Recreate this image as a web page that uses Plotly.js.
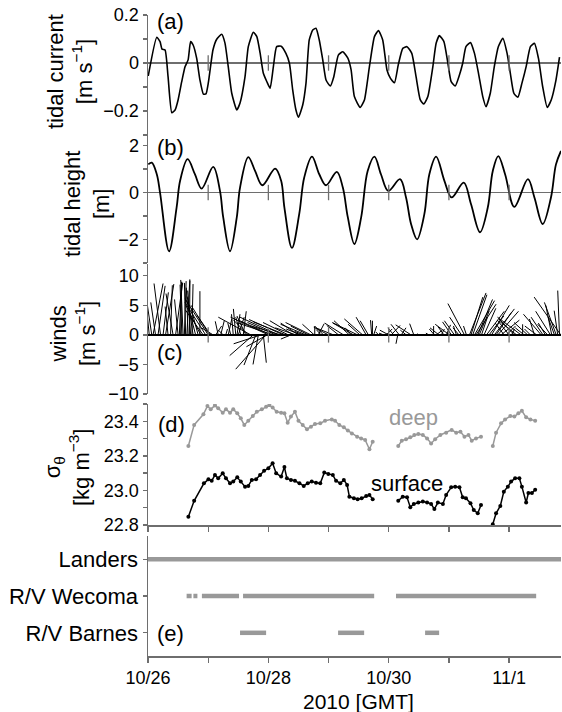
<!DOCTYPE html>
<html><head><meta charset="utf-8">
<script src="https://cdn.plot.ly/plotly-3.0.1.min.js"></script>
<style>html,body{margin:0;padding:0;background:#fff}</style>
</head><body><div id="chart" style="width:562px;height:712px"></div>
<script>
// ---------- DATA (hours after 2010-10-26 00:00 GMT) ----------
const currentHours = [0.1,3.5,4.8,5.6,6.8,8.0,9.5,10.8,12.0,13.4,14.8,16.0,17.0,18.0,19.4,20.7,22.1,23.1,24.1,25.9,27.4,29.4,30.7,32.0,33.4,35.4,36.7,38.7,40.0,42.0,43.4,44.7,46.0,47.4,48.7,50.0,51.3,53.1,55.0,56.4,57.7,59.0,60.0,61.7,63.0,64.3,65.7,67.0,68.3,69.7,71.0,72.7,74.1,75.9,77.7,79.7,81.0,82.3,84.6,86.3,88.3,90.3,91.9,93.6,95.3,96.7,98.3,99.8,101.6,103.3,105.2,106.9,108.6,110.0,111.6,113.6,114.9,116.2,118.0,119.5,120.9,122.5,124.2,125.5,126.8,128.6,130.2,131.8,133.5,134.8,136.5,138.1,139.7,141.5,143.2,144.5,145.9,147.5,149.1,150.8,152.5,154.1,155.7,157.4,159.2,160.8,162.7,164.1];
const currentValues = [-0.054,0.107,0.089,0.058,0.054,-0.057,-0.207,-0.196,-0.154,-0.08,-0.015,0.013,0.089,0.075,0.02,-0.07,-0.13,-0.129,-0.08,0.054,0.099,0.12,0.083,-0.015,-0.126,-0.196,-0.167,-0.057,0.068,0.128,0.11,0.042,-0.043,-0.078,-0.105,-0.015,0.068,0.07,0.04,-0.001,-0.112,-0.196,-0.226,-0.175,-0.085,0.096,0.1375,0.145,0.096,0.0125,-0.071,-0.096,-0.057,0.033,0.047,0.02,-0.029,-0.14,-0.185,-0.154,-0.015,0.11,0.135,0.096,-0.029,-0.064,-0.082,-0.008,0.061,0.068,0.04,-0.057,-0.154,-0.171,-0.14,-0.015,0.082,0.114,0.089,0.005,-0.078,-0.096,-0.05,-0.001,0.068,0.085,0.04,-0.043,-0.14,-0.182,-0.126,-0.015,0.068,0.103,0.04,-0.043,-0.126,-0.143,-0.085,-0.015,0.068,0.082,0.02,-0.099,-0.185,-0.154,-0.071,0.024];

const heightHours = [0.1,1.5,3.5,4.8,8.4,11.4,12.8,15.8,18.7,21.4,26.0,28.7,30.0,32.7,35.4,36.7,40.0,42.7,45.6,50.7,53.1,54.4,57.4,60.3,62.3,65.4,68.3,71.0,75.3,77.7,79.7,82.3,85.0,87.6,90.3,92.9,95.8,100.5,102.9,104.9,107.3,110.2,112.2,114.9,118.2,121.1,125.9,128.8,132.4,135.5,137.5,139.7,142.4,146.1,151.5,154.1,157.4,160.7,162.7,164.7];
const heightValues = [1.20,1.27,0.78,0,-2.5,-0.64,0.5,1.42,0.78,0.17,1.09,0.07,-1.06,-2.5,-1.06,0.21,1.51,0.92,0.31,1.02,0.5,-0.64,-2.36,-0.92,0.64,1.53,0.78,0.31,0.88,0.21,-1.06,-2.19,-1.06,0.92,1.53,0.78,0.07,0.57,-0.21,-1.34,-1.99,-0.92,0.78,1.53,0.5,-0.21,0.42,-0.49,-1.69,-0.64,0.92,1.55,0.78,-0.61,0.57,-0.21,-1.34,-0.21,1.20,1.77];

const windHours = [0.5,1.5,2,3,4,5,6,7,8,9,10,11,12,12.5,13,13.5,14,14.5,15,15.5,16,16.5,17,17.5,18,19,20,20.7,21,22,23,24,24.5,25,26,27,28,29,30,31,32,33,34,35,35.5,36,37,38,39,40,41,42,43,44,45,46,47,47.5,48,49,50,51,52,53,54,55,56,57,58,59,60,61,62,63,64,65,66.3,66.5,67.9,69,70,72,74,76,78,80.3,81,82,83.6,84.5,85.6,87,87.9,89.2,89.5,90,92,94,95,96,97,98,99.6,100.2,101,103,104.9,106,108,110,112,113.9,114.2,115,116,117,118,119,120.2,121,122.2,123,124,125,126.2,127,128.2,128.8,129.5,130.2,130.8,131.5,132.1,133,134,135,136,137,138.1,138.8,139.5,140.8,142,143,144,145,146.1,147,148.8,149.4,150,151.4,152.5,154.1,155,156.8,157.5,158.5,159.4,160.5,161,162.1,162.8,163.4,164.1,164.6];
const windU = [-0.7,-0.9,1.7,-0.8,1.2,-1.1,0.9,1.4,-0.5,0.3,-1.2,1.2,-0.6,0.4,0.2,-0.3,-0.4,0.3,-0.2,0.5,-0.3,0.1,-0.5,0.2,-1.0,-1.5,-1.2,0,-2.5,-3.0,-3.5,-3.9,-3.1,-2.3,-2.0,1.0,-0.5,0.6,-0.8,0.3,0.6,-0.5,-0.3,-0.4,0.5,1.0,-0.85,0.5,-1.5,-2.5,-5.5,-4.0,-2.0,-0.9,-4.6,0.5,-5.1,-3.5,-6.4,-5.5,-6.0,-4.8,-6.5,-5.0,-5.8,-5.5,-4.3,-1.7,-4.0,-3.5,-3.0,-2.5,-1.5,-4.3,-3.0,-4.3,-2.0,0,1.0,-0.8,-1.5,-2.5,-3.0,-2.0,-3.2,-2.6,-1.0,-3.5,-4.3,-2.0,-3.1,-1.7,-1.4,-0.2,0,0.5,-0.5,-0.8,1.0,-1.5,1.5,-1.0,-0.3,-1.4,0.8,-1.0,-2.6,-0.7,-0.3,0.2,-0.5,0,-0.85,1.0,-1.5,0.5,-1.0,0.7,-2.4,-1.5,-1.7,-0.5,-1.0,-2.0,-2.8,-0.5,2.8,2.0,2.4,3.4,3.4,2.5,1.7,1.0,2.0,3.0,2.5,3.0,3.4,2.6,3.5,3.1,-1.5,1.5,-2.0,0.5,-2.6,-3.0,-4.0,0,-1.5,-2.3,-1.0,-0.85,-2.0,-3.0,-2.0,-1.2,-1.7,-2.5,-1.0,-1.1,-2.0,-0.6,-0.3,-4.5];
const windV = [6.9,6.1,8.7,5.5,8.3,8.7,7.2,8.6,4.8,8.4,7.0,8.8,6.0,8.9,9.0,8.5,9.3,9.1,8.8,9.4,8.0,9.2,7.5,8.6,6.5,5.8,4.5,7.4,5.0,4.2,5.5,6.1,5.0,3.3,1.2,1.5,2.3,2.4,0.8,1.0,2.7,2.0,3.5,4.4,3.5,3.0,3.0,4.0,3.2,2.5,3.0,-3.5,-5.1,-5.0,-1.5,-4.7,-5.8,-2.0,3.0,2.5,2.0,2.1,3.0,1.5,2.6,2.2,2.1,-0.7,2.4,1.2,2.0,1.0,0.6,1.8,1.5,2.1,1.8,1.5,1.9,0.9,1.5,1.3,1.2,1.6,2.0,2.4,1.2,2.0,2.1,1.8,2.7,3.0,2.4,2.5,2.4,1.5,0.5,0.3,1.0,0.8,1.6,1.2,-1.5,1.8,1.2,0.8,1.7,1.9,0.2,0.1,0.3,1.5,1.0,0.8,1.2,1.0,1.4,1.7,1.8,2.2,2.4,1.5,1.2,3.0,5.3,1.5,7.1,6.4,6.8,5.8,5.2,6.0,4.1,3.0,4.5,4.0,3.2,5.0,4.4,3.8,4.0,2.5,2.0,1.5,2.5,1.0,2.7,2.4,3.0,1.8,1.2,2.1,1.0,2.7,1.5,3.5,3.0,2.0,1.8,4.0,5.0,3.0,5.5,4.1,7.5,6.4];

const deepHours = [16.1,18.4,22.1,23.7,25.0,26.7,28.0,29.8,31.1,32.7,34.0,35.6,37.0,38.4,40.0,41.8,43.4,45.4,47.1,48.4,49.7,51.3,53.1,54.4,55.7,57.0,58.6,60.0,61.7,63.4,65.0,66.6,68.7,70.6,73.3,74.6,76.3,78.1,79.7,81.3,83.4,85.0,86.6,88.3,89.6,null,99.8,101.2,102.9,104.6,106.2,107.8,109.6,111.3,112.9,114.5,116.6,118.9,121.1,122.9,124.6,126.2,127.8,129.1,130.8,132.8,null,137.5,138.8,140.8,142.4,144.5,146.1,147.7,149.1,150.8,152.5,154.4];
const deepValues = [23.257,23.379,23.44,23.488,23.469,23.492,23.475,23.45,23.469,23.45,23.469,23.446,23.417,23.379,23.403,23.43,23.455,23.469,23.484,23.494,23.48,23.455,23.45,23.446,23.392,23.427,23.455,23.403,23.379,23.354,23.369,23.384,23.388,23.403,23.411,23.403,23.379,23.365,23.346,23.33,23.311,23.301,23.292,23.238,23.282,null,23.257,23.288,23.296,23.307,23.321,23.327,23.321,23.301,23.272,23.296,23.321,23.334,23.35,23.334,23.34,23.311,23.321,23.288,23.301,23.311,null,23.257,23.334,23.388,23.411,23.43,23.427,23.446,23.461,23.423,23.411,23.403];

const surfHours = [16.1,18.4,22.3,24.1,25.4,26.7,28.0,29.8,31.1,32.7,34.0,35.6,37.0,38.7,40.0,41.4,43.1,44.7,46.3,48.0,49.7,51.1,53.1,54.4,55.4,57.0,58.6,60.4,62.1,63.7,65.3,67.0,68.7,70.3,71.9,73.7,75.0,76.7,78.1,79.4,80.3,82.1,83.6,85.2,87.0,88.3,89.6,null,99.8,101.6,103.3,104.6,106.0,107.8,109.6,111.3,112.9,114.2,115.6,117.6,118.9,120.9,122.5,124.2,125.5,126.8,128.6,129.9,131.5,132.8,null,137.5,138.8,140.5,141.9,143.5,144.8,146.4,148.1,149.1,150.8,151.7,153.1,154.4];
const surfValues = [22.848,22.94,23.041,23.064,23.056,23.089,23.07,23.099,23.07,23.041,23.051,23.076,23.051,23.022,23.026,23.061,23.064,23.089,23.114,23.128,23.157,23.099,23.08,23.135,23.07,23.061,23.056,23.041,23.026,23.041,23.051,23.045,23.041,23.103,23.095,23.089,23.056,23.041,23.061,23.032,22.964,22.955,22.949,22.955,22.968,22.974,22.949,null,22.94,22.964,22.96,22.903,22.922,22.93,22.936,22.93,22.922,22.892,22.93,22.922,22.974,23.018,23.022,23.018,22.96,22.955,22.926,22.887,22.868,22.916,null,22.804,22.868,22.91,22.993,23.022,23.051,23.07,23.07,23.022,22.93,22.985,22.985,23.004];

const platforms = ['R/V Barnes','R/V Wecoma','Landers'];
const landersStart = [0],       landersEnd = [164.7];
const wecomaStart = [15.4,18.1,21.5,37.9,98.9], wecomaEnd = [17.4,19.7,36.3,90.2,154.8];
const barnesStart = [36.7,75.8,110.5], barnesEnd = [47.1,86.2,116.1];

const dayTicks = [0,1,2,3,4,5,6];
const dayLabels = ['10/26','','10/28','','10/30','','11/1'];
const xMaxHours = 164.7;

// ---------- helpers ----------
const T0 = Date.UTC(2010,9,26);
function ts(h){ if(h===null||h===undefined) return null; return new Date(T0 + h*3600000).toISOString().replace('T',' ').replace('Z',''); }
const W=562,H=712,L=148,R=1,T=15,B=56, PW=W-L-R, PH=H-T-B;
const fy = py => (H-B-py)/PH;
const fx = px => (px-L)/PW;
const FONT = 'Liberation Sans, Arial, Helvetica, sans-serif';
const AX = '#6e6e6e';
const xRange = [ts(0), ts(xMaxHours)];
const tickDates = dayTicks.map(d=>ts(d*24));

const dom = {
  a:[fy(135),fy(15)], b:[fy(263),fy(135)], c:[fy(394),fy(264)], d:[fy(525),fy(404)], e:[fy(656),fy(536)]
};
const cRange = [-10,12];

// wind sticks scaled isotropically
const pxPerMs = (394-264)/(cRange[1]-cRange[0]);
const pxPerHour = PW/xMaxHours;
const hPerMs = pxPerMs/pxPerHour;
const wx=[], wy=[];
windHours.forEach((h,i)=>{ wx.push(ts(h), ts(h+windU[i]*hPerMs), null); wy.push(0, windV[i], null); });

function segs(starts, ends, level){
  const x=[],y=[];
  starts.forEach((s,i)=>{ x.push(ts(s),ts(ends[i]),null); y.push(level,level,null); });
  return {x,y};
}
const lan = segs(landersStart,landersEnd,3), wec = segs(wecomaStart,wecomaEnd,2), bar = segs(barnesStart,barnesEnd,1);

const zeroTickDates = tickDates.slice(1);
function zeroTicks(xa,ya){
  return {x:zeroTickDates, y:zeroTickDates.map(()=>0), xaxis:xa, yaxis:ya, mode:'markers', type:'scatter',
    marker:{symbol:'line-ns', size:11, color:AX, line:{width:1.3, color:AX}}, hoverinfo:'skip', cliponaxis:false};
}

const traces = [
  {x:currentHours.map(ts), y:currentValues, xaxis:'x', yaxis:'y', mode:'lines', type:'scatter', line:{color:'#000', width:1.6, shape:'spline', smoothing:0.5}},
  zeroTicks('x','y'),
  {x:heightHours.map(ts), y:heightValues, xaxis:'x2', yaxis:'y2', mode:'lines', type:'scatter', line:{color:'#000', width:1.8, shape:'spline', smoothing:1}},
  zeroTicks('x2','y2'),
  {x:wx, y:wy, xaxis:'x3', yaxis:'y3', mode:'lines', type:'scatter', line:{color:'#000', width:1}, connectgaps:false},
  zeroTicks('x3','y3'),
  {x:deepHours.map(ts), y:deepValues, xaxis:'x4', yaxis:'y4', mode:'lines+markers', type:'scatter', line:{color:'#999', width:1.5}, marker:{color:'#999', size:4}},
  {x:surfHours.map(ts), y:surfValues, xaxis:'x4', yaxis:'y4', mode:'lines+markers', type:'scatter', line:{color:'#000', width:1.5}, marker:{color:'#000', size:4}},
  {x:lan.x, y:lan.y, xaxis:'x5', yaxis:'y5', mode:'lines', type:'scatter', line:{color:'#999', width:4.5}},
  {x:wec.x, y:wec.y, xaxis:'x5', yaxis:'y5', mode:'lines', type:'scatter', line:{color:'#999', width:4.5}},
  {x:bar.x, y:bar.y, xaxis:'x5', yaxis:'y5', mode:'lines', type:'scatter', line:{color:'#999', width:4.5}}
];

function hiddenX(anchor){ return {type:'date', range:xRange, anchor:anchor, visible:false, domain:[0,1]}; }
function yAx(domain, range, vals, text, zero, zc, zw){
  return {domain:domain, range:range, tickvals:vals, ticktext:text, ticks:'outside', ticklen:4, tickwidth:1.3, tickcolor:AX,
    showline:true, linecolor:AX, linewidth:1.5, showgrid:false, zeroline:!!zero, zerolinecolor:zc||AX, zerolinewidth:zw||1.5,
    tickfont:{size:18, color:'#000', family:FONT}, fixedrange:true};
}
const bottomX = (anchor, labels) => ({type:'date', range:xRange, anchor:anchor, domain:[0,1], tickvals:tickDates, ticktext: labels ? dayLabels : dayTicks.map(()=>''),
  ticks:'outside', ticklen:5, tickwidth:1.3, tickcolor:AX, showline:true, linecolor:AX, linewidth:1.5, showgrid:false, zeroline:false,
  showticklabels:!!labels, tickfont:{size:18, color:'#000', family:FONT}});

function ann(text, px, py, opts){
  return Object.assign({text:text, xref:'paper', yref:'paper', x:fx(px), y:fy(py), showarrow:false, xanchor:'center', yanchor:'middle',
    font:{size:22, color:'#000', family:FONT}}, opts||{});
}

const layout = {
  width:W, height:H, margin:{l:L, r:R, t:T, b:B}, paper_bgcolor:'#fff', plot_bgcolor:'rgba(0,0,0,0)', showlegend:false,
  font:{family:FONT, color:'#000'},
  xaxis: hiddenX('y'), xaxis2: hiddenX('y2'), xaxis3: hiddenX('y3'),
  xaxis4: bottomX('y4', false), xaxis5: bottomX('y5', true),
  yaxis: yAx(dom.a, [-0.3,0.2], [-0.3,-0.2,-0.1,0,0.1,0.2], ['','−0.2','','0','','0.2'], true),
  yaxis2: yAx(dom.b, [-3,2.45], [-3,-2,-1,0,1,2], ['','−2','','0','','2'], true),
  yaxis3: yAx(dom.c, cRange, [-10,-5,0,5,10], ['−10','−5','0','5','10'], true, '#000', 1.8),
  yaxis4: yAx(dom.d, [22.8,23.5], [22.8,22.9,23.0,23.1,23.2,23.3,23.4,23.5], ['22.8','','23.0','','23.2','','23.4',''], false),
  yaxis5: Object.assign(yAx(dom.e, [0.37,3.63], [1,2,3], platforms, false), {tickfont:{size:22, color:'#000', family:FONT}}),
  annotations: [
    ann('(a)', 155, 22, {xanchor:'left'}),
    ann('(b)', 155, 148, {xanchor:'left'}),
    ann('(c)', 155, 352, {xanchor:'left'}),
    ann('(d)', 156, 424, {xanchor:'left'}),
    ann('(e)', 155, 633, {xanchor:'left'}),
    ann('deep', 413, 417, {font:{size:22, color:'#999', family:FONT}}),
    ann('surface', 407, 483),
    ann('tidal current<br>[m s<sup>−1</sup>]', 70, 72, {textangle:-90}),
    ann('tidal height<br>[m]', 87, 204, {textangle:-90}),
    ann('winds<br>[m s<sup>−1</sup>]', 73, 334, {textangle:-90}),
    ann('σ<sub>θ</sub><br>[kg m<sup>−3</sup>]', 67, 468, {textangle:-90}),
    ann('2010 [GMT]', 358, 701, {font:{size:21, color:'#000', family:FONT}})
  ]
};

Plotly.newPlot('chart', traces, layout, {staticPlot:true, displayModeBar:false});
</script></body></html>
